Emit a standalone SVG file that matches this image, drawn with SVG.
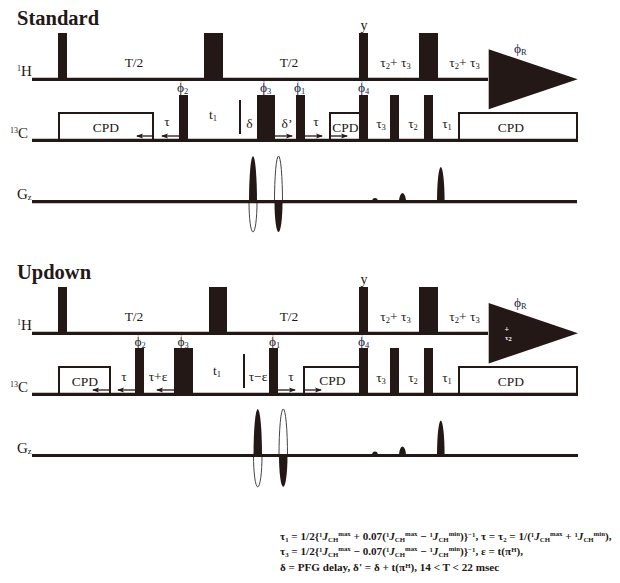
<svg xmlns="http://www.w3.org/2000/svg" width="620" height="583" viewBox="0 0 620 583">
<style>
text{font-family:"Liberation Serif","Times New Roman",serif;fill:#231815;font-size:13.5px}
.h{font-weight:bold;font-size:20.5px}
.c{text-anchor:middle}
.ch{font-size:15px}
.sup{font-size:8px}
.sub{font-size:8.500px}
.ph{fill:#1c2a44;font-size:13.500px}
.b{fill:#231815}
.l{stroke:#231815;stroke-width:3.200;fill:none}
.box{stroke:#231815;stroke-width:2;fill:#fff}
.a{stroke:#231815;stroke-width:1.300;fill:none;marker-end:url(#ah)}
.o{fill:#fff;stroke:#444;stroke-width:1}
.to{stroke:#d8a050;stroke-width:.8}
.tp{stroke:#8a5a9a;stroke-width:.8}
.tb{stroke:#6ab0d8;stroke-width:.8}
.f{font-size:11.150px;font-weight:bold}
.s{font-size:6.800px;font-weight:bold}
.w{fill:#fff;font-weight:bold}
</style>
<defs><marker id="ah" markerWidth="7" markerHeight="6" refX="6" refY="3" orient="auto" markerUnits="userSpaceOnUse"><path d="M0,0.500L7,3L0,5.500L1.500,3Z" fill="#231815"/></marker></defs>
<g id="standard">
<text x="17" y="25" class="h">Standard</text>
<text x="17" y="76" class="ch"><tspan class="sup" dy="-5">1</tspan><tspan dy="5">H</tspan></text><text x="10" y="138" class="ch"><tspan class="sup" dy="-5">13</tspan><tspan dy="5">C</tspan></text><text x="17" y="199" class="ch">G<tspan class="sub" dy="1">z</tspan></text>
<path class="box" d="M59,140V113H153V140M459,140V113H577V140M330,140V113H360V140"/>
<g class="b">
<rect x="58" y="33" width="9" height="46"/><rect x="204" y="33" width="19" height="46"/><rect x="359" y="33" width="9" height="46"/><rect x="419" y="33" width="19" height="46"/>
<path d="M488.700,49.300L577.700,79.300L488.700,109.300Z"/>
<rect x="179" y="95" width="9" height="45"/><rect x="257" y="95" width="18" height="45"/><rect x="296" y="95" width="9" height="45"/><rect x="359" y="95" width="9" height="45"/><rect x="390" y="95" width="9" height="45"/><rect x="424" y="95" width="9" height="45"/>
<rect x="239" y="100" width="2" height="34"/>
<path class="b" d="M249,202A4,46 0 0 1 257,202Z"/>
<path class="o" d="M249,202A4,30 0 0 0 257,202Z"/>
<path class="o" d="M274.500,202A4,46 0 0 1 282.500,202Z"/>
<path class="b" d="M274.500,202A4,30 0 0 0 282.500,202Z"/>
<path d="M372,202A3,4 0 0 1 378,202ZM399,202A3.500,9 0 0 1 406,202ZM437,202A3.800,35 0 0 1 444.600,202Z"/>
</g>
<path class="l" d="M32,79.300H488M32,140.300H578M32,201.700H577"/>
<path class="a" d="M153,136H137"/><path class="a" d="M179,136H162"/><path class="a" d="M275,136H292"/><path class="a" d="M305,136H322"/><path class="a" d="M331,136H347"/>
<path class="to" d="M181,81V95"/><path class="tp" d="M264,81V95"/><path class="tb" d="M298,81V95M362,81V95"/>
<text x="134" y="67" class="c">T/2</text><text x="289" y="67" class="c">T/2</text>
<text x="106" y="132" class="c">CPD</text><text x="345.500" y="132" class="c">CPD</text><text x="511" y="132" class="c">CPD</text>
<text x="167" y="126" class="c">τ</text><text x="213" y="119" class="c">t<tspan class="sub" dy="2">1</tspan></text><text x="249.500" y="128" class="c">δ</text><text x="287" y="128" class="c">δ’</text><text x="316" y="126" class="c">τ</text>
<text x="177" y="92" class="ph">ϕ<tspan class="sub" dy="2">2</tspan></text><text x="260" y="92" class="ph">ϕ<tspan class="sub" dy="2">3</tspan></text><text x="294" y="92" class="ph">ϕ<tspan class="sub" dy="2">1</tspan></text><text x="358" y="92" class="ph">ϕ<tspan class="sub" dy="2">4</tspan></text><text x="514" y="53" class="ph">ϕ<tspan class="sub" dy="2">R</tspan></text>
<text x="364" y="29.500" class="c" style="font-size:14px">y</text>
<text x="395.500" y="67" class="c">τ<tspan class="sub" dy="2">2</tspan><tspan dy="-2">+ τ</tspan><tspan class="sub" dy="2">3</tspan></text><text x="464.500" y="67" class="c">τ<tspan class="sub" dy="2">2</tspan><tspan dy="-2">+ τ</tspan><tspan class="sub" dy="2">3</tspan></text>
<text x="381" y="128" class="c">τ<tspan class="sub" dy="2">3</tspan></text><text x="413" y="128" class="c">τ<tspan class="sub" dy="2">2</tspan></text><text x="447" y="128" class="c">τ<tspan class="sub" dy="2">1</tspan></text>
</g>
<g id="updown">
<text x="17" y="279" class="h">Updown</text>
<text x="17" y="330" class="ch"><tspan class="sup" dy="-5">1</tspan><tspan dy="5">H</tspan></text><text x="10" y="392" class="ch"><tspan class="sup" dy="-5">13</tspan><tspan dy="5">C</tspan></text><text x="17" y="453" class="ch">G<tspan class="sub" dy="1">z</tspan></text>
<path class="box" d="M59,394V367H110V394M304,394V367H360M459,394V367H577V394"/>
<g class="b">
<rect x="58" y="287" width="9" height="46"/><rect x="209" y="287" width="18" height="46"/><rect x="359" y="287" width="9" height="46"/><rect x="419" y="287" width="19" height="46"/>
<path d="M488.700,303L578,333.300L488.700,363.500Z"/>
<rect x="135" y="348" width="9" height="46"/><rect x="174" y="348" width="19" height="46"/><rect x="269" y="348" width="9" height="46"/><rect x="359" y="348" width="9" height="46"/><rect x="390" y="348" width="9" height="46"/><rect x="424" y="348" width="9" height="46"/>
<rect x="243" y="354" width="2" height="34"/>
<path d="M253.500,455.500A4.200,46 0 0 1 262,455.500Z"/>
<path class="o" d="M253.500,455.500A4.200,31 0 0 0 262,455.500Z"/>
<path class="o" d="M279,455.500A4.200,46 0 0 1 287.500,455.500Z"/>
<path d="M279,455.500A4.200,31 0 0 0 287.500,455.500Z"/>
<path d="M372,455.500A3,4 0 0 1 378,455.500ZM399,455.500A3.500,9 0 0 1 406,455.500ZM437,455.500A3.800,35 0 0 1 444.600,455.500Z"/>
</g>
<path class="l" d="M32,333.300H488M32,394.300H578M32,455.500H578"/>
<path class="a" d="M110,390H93"/><path class="a" d="M135,390H118"/><path class="a" d="M174,390H157"/><path class="a" d="M278,390H295"/><path class="a" d="M304,390H321"/>
<path class="to" d="M138.300,335V348M181.300,335V348M273,335V348"/><path class="tb" d="M362,335V348"/>
<text x="134" y="321" class="c">T/2</text><text x="289" y="321" class="c">T/2</text>
<text x="85" y="386" class="c">CPD</text><text x="332.500" y="385" class="c">CPD</text><text x="511" y="386" class="c">CPD</text>
<text x="124" y="381" class="c">τ</text><text x="158" y="381" class="c">τ+ε</text><text x="217" y="375" class="c">t<tspan class="sub" dy="2">1</tspan></text><text x="258" y="381" class="c">τ−ε</text><text x="291" y="381" class="c">τ</text>
<text x="134.500" y="346" class="ph">ϕ<tspan class="sub" dy="2">2</tspan></text><text x="177.500" y="346" class="ph">ϕ<tspan class="sub" dy="2">3</tspan></text><text x="269" y="346" class="ph">ϕ<tspan class="sub" dy="2">1</tspan></text><text x="358" y="346" class="ph">ϕ<tspan class="sub" dy="2">4</tspan></text><text x="514" y="307" class="ph">ϕ<tspan class="sub" dy="2">R</tspan></text>
<text x="364" y="283.500" class="c" style="font-size:14px">y</text>
<text x="395.500" y="321" class="c">τ<tspan class="sub" dy="2">2</tspan><tspan dy="-2">+ τ</tspan><tspan class="sub" dy="2">3</tspan></text><text x="464.500" y="321" class="c">τ<tspan class="sub" dy="2">2</tspan><tspan dy="-2">+ τ</tspan><tspan class="sub" dy="2">3</tspan></text>
<text x="381" y="382" class="c">τ<tspan class="sub" dy="2">3</tspan></text><text x="413" y="382" class="c">τ<tspan class="sub" dy="2">2</tspan></text><text x="447" y="382" class="c">τ<tspan class="sub" dy="2">1</tspan></text>
<text x="504.500" y="332" class="w" style="font-size:8px">+</text>
<text x="505" y="340" class="w" style="font-size:7px">τ<tspan dy="1" style="font-size:7px">2</tspan></text>
</g>
<g id="legend">
<text x="280" y="540" class="f">τ<tspan class="s" dy="2">1</tspan><tspan dy="-2"> = 1/2{</tspan><tspan class="s" dy="-3">1</tspan><tspan dy="3" font-style="italic">J</tspan><tspan class="s" dy="2">CH</tspan><tspan class="s" dy="-6">max</tspan><tspan dy="4"> + 0.07(</tspan><tspan class="s" dy="-3">1</tspan><tspan dy="3" font-style="italic">J</tspan><tspan class="s" dy="2">CH</tspan><tspan class="s" dy="-6">max</tspan><tspan dy="4"> − </tspan><tspan class="s" dy="-3">1</tspan><tspan dy="3" font-style="italic">J</tspan><tspan class="s" dy="2">CH</tspan><tspan class="s" dy="-6">min</tspan><tspan dy="4">)}</tspan><tspan class="s" dy="-3">−1</tspan><tspan dy="3">, τ = τ</tspan><tspan class="s" dy="2">2</tspan><tspan dy="-2"> = 1/(</tspan><tspan class="s" dy="-3">1</tspan><tspan dy="3" font-style="italic">J</tspan><tspan class="s" dy="2">CH</tspan><tspan class="s" dy="-6">max</tspan><tspan dy="4"> + </tspan><tspan class="s" dy="-3">1</tspan><tspan dy="3" font-style="italic">J</tspan><tspan class="s" dy="2">CH</tspan><tspan class="s" dy="-6">min</tspan><tspan dy="4">),</tspan></text>
<text x="280" y="555" class="f">τ<tspan class="s" dy="2">3</tspan><tspan dy="-2"> = 1/2{</tspan><tspan class="s" dy="-3">1</tspan><tspan dy="3" font-style="italic">J</tspan><tspan class="s" dy="2">CH</tspan><tspan class="s" dy="-6">max</tspan><tspan dy="4"> − 0.07(</tspan><tspan class="s" dy="-3">1</tspan><tspan dy="3" font-style="italic">J</tspan><tspan class="s" dy="2">CH</tspan><tspan class="s" dy="-6">max</tspan><tspan dy="4"> − </tspan><tspan class="s" dy="-3">1</tspan><tspan dy="3" font-style="italic">J</tspan><tspan class="s" dy="2">CH</tspan><tspan class="s" dy="-6">min</tspan><tspan dy="4">)}</tspan><tspan class="s" dy="-3">−1</tspan><tspan dy="3">, ε = t(π</tspan><tspan class="s" dy="-3">H</tspan><tspan dy="3">),</tspan></text>
<text x="280" y="571" class="f">δ = PFG delay, δ' = δ + t(π<tspan class="s" dy="-3">H</tspan><tspan dy="3">), 14 &lt; T &lt; 22 msec</tspan></text>
</g>
</svg>
